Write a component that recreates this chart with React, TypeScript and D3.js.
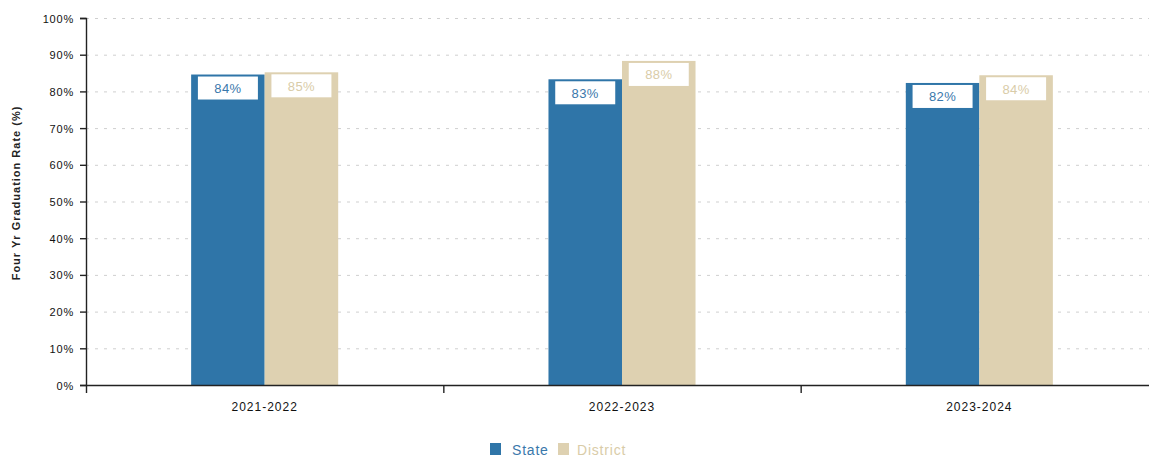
import React from "react";
import * as d3 from "d3";

const categories = ["2021-2022", "2022-2023", "2023-2024"];
const seriesNames = ["State", "District"];
const stateValues = [84.6, 83.3, 82.3];
const districtValues = [85.2, 88.3, 84.4];
const stateLabels = ["84%", "83%", "82%"];
const districtLabels = ["85%", "88%", "84%"];
const yTicks = [0, 10, 20, 30, 40, 50, 60, 70, 80, 90, 100];

const W = 1149;
const H = 457;
const FONT = "Arial, 'Liberation Sans', sans-serif";
const BLUE = "#2f75a8";
const BEIGE = "#ded1b1";

export default function App() {
  const x0 = d3.scaleBand<string>().domain(categories).range([86, 1158]).padding(0);
  const x1 = d3
    .scaleBand<string>()
    .domain(seriesNames)
    .range([0, x0.step()])
    .paddingInner(0)
    .paddingOuter(1.43);
  const y = d3.scaleLinear().domain([0, 100]).range([385, 18]);

  const series = [
    { name: "State", values: stateValues, labels: stateLabels, color: BLUE, labelColor: "#3a78ab" },
    { name: "District", values: districtValues, labels: districtLabels, color: BEIGE, labelColor: "#d9cca8" },
  ];

  return (
    <svg width={W} height={H} style={{ position: "absolute", left: 0, top: 0, background: "#fff" }} fontFamily={FONT}>
      {yTicks.slice(1).map((t) => (
        <line key={t} x1={86} x2={W} y1={y(t) + 0.5} y2={y(t) + 0.5} stroke="#cfcfcf" strokeDasharray="3,6" />
      ))}
      {categories.map((c, i) =>
        series.map((s) => {
          const bx = (x0(c) as number) + (x1(s.name) as number);
          const bw = x1.bandwidth();
          const by = y(s.values[i]);
          return (
            <g key={c + s.name}>
              <rect x={bx} y={by} width={bw} height={y(0) - by} fill={s.color} />
              <rect x={bx + bw / 2 - 30} y={by + 2} width={60} height={23} fill="#fff" />
              <text
                x={bx + bw / 2}
                y={by + 18.5}
                textAnchor="middle"
                fontSize={13}
                letterSpacing={0.4}
                fill={s.labelColor}
              >
                {s.labels[i]}
              </text>
            </g>
          );
        })
      )}
      <path d={`M80,18.5H86.5V385.5H80`} fill="none" stroke="#222" strokeWidth={1.4} />
      {yTicks.map((t) => (
        <g key={t}>
          <line x1={80} x2={86} y1={y(t) + 0.5} y2={y(t) + 0.5} stroke="#222" strokeWidth={1.4} />
          <text x={74} y={y(t) + 4.5} textAnchor="end" fontSize={11} letterSpacing={0.8} fill="#111">
            {t}%
          </text>
        </g>
      ))}
      <path d={`M86.5,393V385.5H${W}`} fill="none" stroke="#222" strokeWidth={1.4} />
      {categories.map((c, i) => (
        <g key={c}>
          {i > 0 && (
            <line x1={(x0(c) as number) + 0.5} x2={(x0(c) as number) + 0.5} y1={385} y2={393} stroke="#222" strokeWidth={1.4} />
          )}
          <text x={(x0(c) as number) + x0.bandwidth() / 2} y={411} textAnchor="middle" fontSize={12} letterSpacing={1} fill="#111">
            {c}
          </text>
        </g>
      ))}
      <text
        transform={`translate(20,193) rotate(-90)`}
        textAnchor="middle"
        fontSize={11}
        fontWeight="bold"
        letterSpacing={1}
        fill="#222"
      >
        Four Yr Graduation Rate (%)
      </text>
      <rect x={490} y={443} width={11} height={12} fill={BLUE} />
      <text x={512} y={455} fontSize={14} letterSpacing={0.8} fill="#3a78ab">
        State
      </text>
      <rect x={558} y={443} width={11} height={12} fill={BEIGE} />
      <text x={577} y={455} fontSize={14} letterSpacing={0.8} fill="#d9cca8">
        District
      </text>
    </svg>
  );
}
